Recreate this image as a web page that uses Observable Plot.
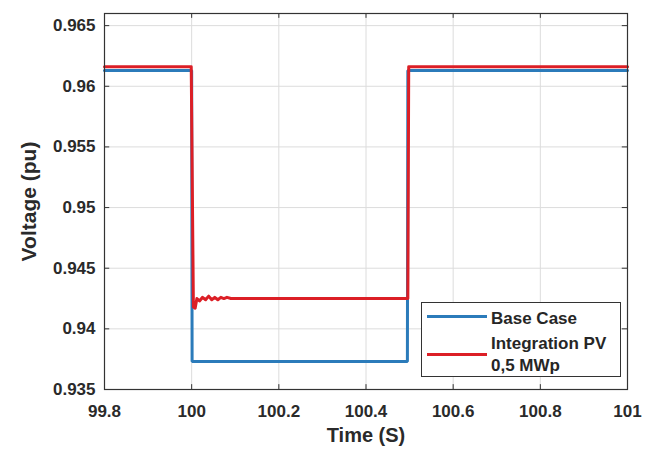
<!DOCTYPE html>
<html>
<head>
<meta charset="utf-8">
<script src="https://cdn.jsdelivr.net/npm/d3@7"></script>
<script src="https://cdn.jsdelivr.net/npm/@observablehq/plot@0.6"></script>
<style>
  body { margin: 0; background: #fff; }
  #wrap { position: relative; width: 645px; height: 450px; font-family: "Liberation Sans", Arial, sans-serif; }
  #legend { position: absolute; left: 421px; top: 302px; width: 200px; height: 75px; border: 1px solid #333; background: #fff; box-sizing: border-box; font-weight: bold; font-size: 17px; color: #262626; }
  .sw { position: absolute; left: 5px; width: 60px; height: 3px; }
  .lt { position: absolute; left: 69px; line-height: 17px; white-space: nowrap; }
</style>
</head>
<body>
<div id="wrap"></div>
<script>
// Series: Base Case
const baseTime = [99.8, 100.0, 100.001, 100.495, 100.496, 101.0];
const baseVolt = [0.9613, 0.9613, 0.9373, 0.9373, 0.9613, 0.9613];
// Series: Integration PV 0,5 MWp
const pvTime = [99.8, 99.999, 100.004, 100.008, 100.012, 100.018, 100.025, 100.032, 100.039, 100.046, 100.053, 100.060, 100.067, 100.074, 100.081, 100.090, 100.100, 100.496, 100.498, 101.0];
const pvVolt = [0.9616, 0.9616, 0.9418, 0.9417, 0.9425, 0.9423, 0.9426, 0.9424, 0.9427, 0.9424, 0.9426, 0.9424, 0.9426, 0.9425, 0.9426, 0.9425, 0.9425, 0.9425, 0.9616, 0.9616];
// Ticks
const xTicks = [99.8, 100, 100.2, 100.4, 100.6, 100.8, 101];
const xLabels = ["99.8", "100", "100.2", "100.4", "100.6", "100.8", "101"];
const yTicks = [0.935, 0.94, 0.945, 0.95, 0.955, 0.96, 0.965];
const yLabels = ["0.935", "0.94", "0.945", "0.95", "0.955", "0.96", "0.965"];
const seriesNames = ["Base Case", "Integration PV", "0,5 MWp"];
const colors = { base: "#2b7bba", pv: "#dc1f26" };

const base = baseTime.map((t, i) => ({t, v: baseVolt[i]}));
const pv = pvTime.map((t, i) => ({t, v: pvVolt[i]}));
const yMin = 0.935, yMax = 0.966, xMin = 99.8, xMax = 101;

const chart = Plot.plot({
  width: 645,
  height: 450,
  marginLeft: 104,
  marginRight: 18,
  marginTop: 13,
  marginBottom: 61,
  style: { fontFamily: "'Liberation Sans', Arial, sans-serif", fontWeight: "bold", fontSize: "17px", color: "#2a2a2a", background: "#fff" },
  x: { domain: [xMin, xMax], ticks: xTicks, tickFormat: (d, i) => xLabels[i], tickSize: 0, tickPadding: 15, label: "Time (S)", labelArrow: "none", labelAnchor: "center", labelOffset: 52 },
  y: { domain: [yMin, yMax], ticks: yTicks, tickFormat: (d, i) => yLabels[i], tickSize: 0, tickPadding: 9, label: "Voltage (pu)", labelArrow: "none", labelAnchor: "center", labelOffset: 83 },
  marks: [
    Plot.gridX(xTicks, { stroke: "#dcdcdc", strokeOpacity: 1 }),
    Plot.gridY(yTicks, { stroke: "#dcdcdc", strokeOpacity: 1 }),
    Plot.ruleX(xTicks, { y1: yMin, y2: yMin + 0.0004, stroke: "#333" }),
    Plot.ruleX(xTicks, { y1: yMax, y2: yMax - 0.0004, stroke: "#333" }),
    Plot.ruleY(yTicks, { x1: xMin, x2: xMin + 0.012, stroke: "#333" }),
    Plot.ruleY(yTicks, { x1: xMax, x2: xMax - 0.012, stroke: "#333" }),
    Plot.line(base, { x: "t", y: "v", stroke: colors.base, strokeWidth: 3, strokeLinejoin: "miter" }),
    Plot.line(pv, { x: "t", y: "v", stroke: colors.pv, strokeWidth: 3, strokeLinejoin: "round" }),
    Plot.frame({ stroke: "#333", strokeWidth: 1.2 })
  ]
});
chart.querySelectorAll("[aria-label='x-axis label'] text").forEach(t => { t.style.fontSize = "20px"; });
chart.querySelectorAll("[aria-label='y-axis label'] text").forEach(t => { t.style.fontSize = "21px"; });
const wrap = document.getElementById("wrap");
wrap.appendChild(chart);

const lg = document.createElement("div");
lg.id = "legend";
lg.innerHTML =
  `<div class="sw" style="top:12px;background:${colors.base}"></div>` +
  `<div class="lt" style="top:7px">${seriesNames[0]}</div>` +
  `<div class="sw" style="top:50px;background:${colors.pv}"></div>` +
  `<div class="lt" style="top:32px">${seriesNames[1]}</div>` +
  `<div class="lt" style="top:54px">${seriesNames[2]}</div>`;
wrap.appendChild(lg);
</script>
</body>
</html>
